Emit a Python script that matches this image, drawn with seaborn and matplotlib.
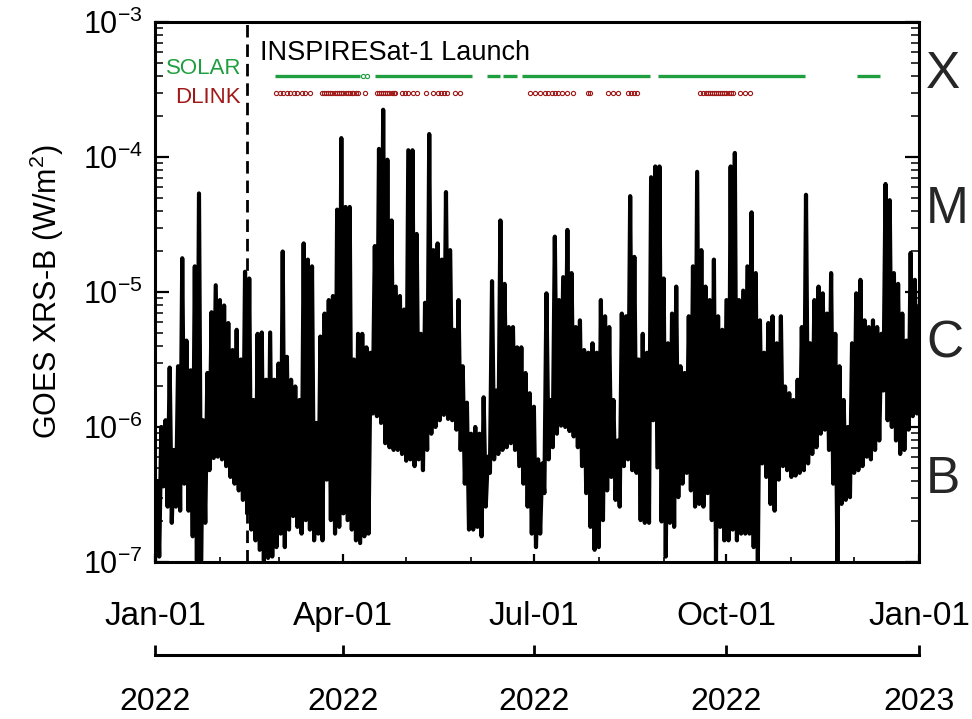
import matplotlib
matplotlib.use("Agg")
import matplotlib.pyplot as plt
import matplotlib.dates as mdates
import matplotlib.transforms as mtransforms
from matplotlib.ticker import LogLocator, NullFormatter, NullLocator
import pandas as pd
import seaborn as sns

# 2-day bins over 2022 (day of year), log10 of the low / high GOES XRS-B flux
bin_day = list(range(0, 366, 2))
flux_hi_log = [
    -6.40, -6.00, -5.95, -5.56, -6.17, -5.55, -4.75, -5.36, -5.58, -4.81,
    -4.27, -5.95, -5.60, -5.15, -4.95, -5.06, -5.10, -5.23, -5.43, -5.28,
    -5.50, -4.85, -4.90, -5.80, -5.31, -5.30, -5.65, -5.30, -5.65, -5.53,
    -4.70, -5.48, -5.65, -5.70, -5.80, -4.64, -4.76, -4.81, -5.97, -5.33,
    -5.16, -5.06, -5.03, -4.39, -3.86, -4.37, -4.37, -5.50, -5.31, -5.31,
    -5.41, -5.45, -4.66, -3.94, -3.65, -4.02, -4.47, -4.96, -5.03, -5.13,
    -3.95, -3.95, -4.57, -5.31, -5.08, -3.83, -4.69, -4.64, -4.76, -4.26,
    -4.69, -5.28, -5.06, -5.55, -5.82, -6.05, -6.00, -6.05, -5.78, -6.22,
    -4.92, -5.73, -4.47, -4.94, -5.26, -5.26, -5.41, -5.41, -5.60, -5.75,
    -5.85, -6.24, -6.27, -5.01, -5.80, -4.59, -5.06, -4.89, -4.54, -4.86,
    -5.26, -5.21, -5.43, -5.45, -5.38, -5.45, -5.06, -5.18, -5.26, -5.80,
    -6.10, -5.16, -5.18, -4.29, -4.74, -5.50, -5.31, -5.45, -4.15, -4.07,
    -4.07, -4.90, -5.38, -5.16, -4.96, -5.55, -5.60, -5.18, -4.81, -4.11,
    -4.69, -4.96, -5.06, -4.76, -5.18, -5.28, -5.06, -4.07, -3.97, -5.06,
    -4.99, -4.81, -4.41, -4.86, -5.21, -5.45, -5.23, -5.18, -5.38, -5.18,
    -5.70, -5.75, -5.80, -5.65, -5.26, -4.28, -5.38, -5.06, -4.96, -5.01,
    -5.16, -4.86, -5.31, -5.55, -5.80, -6.00, -5.38, -5.01, -4.91, -5.21,
    -5.26, -5.21, -5.26, -5.31, -4.20, -4.32, -4.86, -4.94, -5.16, -5.36,
    -4.71, -4.91, -5.11,
]
flux_lo_log = [
    -6.99, -6.96, -6.44, -6.59, -6.71, -6.59, -6.62, -6.42, -6.62, -6.81,
    -6.99, -6.99, -6.71, -6.32, -6.23, -6.22, -6.24, -6.29, -6.37, -6.42,
    -6.47, -6.54, -6.64, -6.76, -6.84, -6.91, -6.99, -6.97, -6.96, -6.89,
    -6.79, -6.89, -6.76, -6.66, -6.74, -6.79, -6.69, -6.76, -6.84, -6.79,
    -6.84, -6.39, -6.69, -6.79, -6.74, -6.64, -6.69, -6.76, -6.84, -6.86,
    -6.81, -6.79, -5.90, -5.92, -5.97, -6.12, -6.15, -6.17, -6.17, -6.20,
    -6.25, -6.24, -6.29, -6.24, -6.32, -6.17, -6.05, -6.00, -5.95, -5.91,
    -5.94, -5.95, -6.02, -6.17, -6.42, -6.76, -6.76, -6.74, -6.81, -6.59,
    -6.34, -6.24, -6.20, -6.17, -6.15, -6.12, -6.17, -6.29, -6.42, -6.59,
    -6.79, -6.89, -6.79, -6.49, -6.24, -6.15, -6.05, -5.99, -6.00, -6.03,
    -6.07, -6.15, -6.29, -6.49, -6.74, -6.91, -6.89, -6.69, -6.47, -6.37,
    -6.54, -6.59, -6.29, -6.24, -6.32, -6.34, -6.69, -6.71, -6.71, -5.95,
    -6.30, -6.70, -6.96, -6.71, -6.74, -6.52, -6.42, -6.34, -6.47, -6.59,
    -6.57, -6.59, -6.49, -6.69, -6.99, -6.74, -6.84, -6.84, -6.76, -6.84,
    -6.79, -6.79, -6.79, -6.89, -6.99, -6.27, -6.37, -6.57, -6.62, -6.39,
    -6.29, -6.32, -6.37, -6.36, -6.34, -6.32, -6.27, -6.20, -6.15, -6.05,
    -6.02, -6.17, -6.42, -7.00, -6.57, -6.54, -6.52, -6.34, -6.32, -6.29,
    -6.22, -6.24, -6.17, -6.10, -5.73, -5.95, -6.00, -6.10, -6.20, -6.17,
    -6.02, -5.92, -5.90,
]

launch_day = 44  # Feb 14

# SOLAR mode periods (day of year)
solar_start = [57.3, 105.0, 158.6, 166.3, 175.3, 240.3, 335.4]
solar_end = [98.0, 151.5, 164.8, 173.0, 236.5, 310.6, 346.4]
solar_dots = [99.5, 101.5]
solar_level = 4.0e-4

# DLINK passes (day of year)
dlink_day = [
    57.8, 59.5, 61.2, 63.0, 64.7, 66.4, 68.0, 70.0, 71.7, 74.1,
    79.6, 80.5, 81.5, 82.5, 83.5, 84.4,
    86.0, 87.0, 88.0, 89.0, 90.0, 91.0, 92.0, 93.0, 94.0, 94.7, 96.0, 97.1,
    100.3,
    106.0, 107.0, 108.0, 109.0, 110.0, 111.0, 112.0, 113.0, 114.0, 114.7,
    117.9, 119.5, 121.0, 123.4, 125.0, 129.5,
    133.0, 135.0, 136.5, 138.0, 139.4, 143.3, 145.7,
    179.2, 181.6, 183.9, 186.3, 187.9, 189.5, 191.1, 192.7, 194.3, 196.7, 199.9,
    207.0, 207.8, 216.6, 219.0, 221.4,
    226.1, 227.5, 229.0, 230.1,
    260.4, 262.0, 263.0, 264.0, 265.0, 266.0, 267.0, 268.0, 269.0, 270.0,
    271.0, 272.0, 273.0, 274.0, 275.0, 276.3,
    279.5, 281.9, 284.3,
]
dlink_level = 3.0e-4

goes_class = ["X", "M", "C", "B"]
class_pos = [4.1e-4, 4.1e-5, 4.1e-6, 4.1e-7]

GREEN = "#1f9e3f"
DRED = "#a01818"

sns.set_theme(style="ticks")
plt.rcParams["font.family"] = ["Liberation Sans", "DejaVu Sans"]
plt.rcParams["mathtext.fontset"] = "custom"
plt.rcParams["mathtext.rm"] = "Liberation Sans"
plt.rcParams["mathtext.it"] = "Liberation Sans:italic"
plt.rcParams["mathtext.bf"] = "Liberation Sans:bold"
plt.rcParams["axes.unicode_minus"] = False

start = pd.Timestamp("2022-01-01")
end = pd.Timestamp("2023-01-01")


def to_date(days):
    return start + pd.to_timedelta(days, unit="D")


# each bin: low value then high value half a bin later -> dense trace
t, f = [], []
for d, lo, hi in zip(bin_day, flux_lo_log, flux_hi_log):
    t += [d, d + 1]
    f += [10 ** lo, 10 ** hi]
goes = pd.DataFrame({"time": to_date(t), "flux": f})

fig = plt.figure(figsize=(9.72, 7.19), dpi=100)
ax = fig.add_axes([0.1595, 0.2184, 0.786, 0.751])

sns.lineplot(data=goes, x="time", y="flux", sort=False, estimator=None,
             color="black", lw=3.0, ax=ax)

ax.set_yscale("log")
ax.set_ylim(1e-7, 1e-3)
ax.set_xlim(start, end)

ax.axvline(to_date(launch_day), color="black", lw=2.0, ls=(0, (4.5, 2.5)))

ax.hlines([solar_level] * len(solar_start), to_date(solar_start), to_date(solar_end),
          colors=GREEN, lw=2.4)
ax.plot(to_date(solar_dots), [solar_level] * len(solar_dots), ls="none", marker="o",
        ms=3, mfc="none", mec=GREEN, mew=0.8)
ax.plot(to_date(dlink_day), [dlink_level] * len(dlink_day), ls="none", marker="o",
        ms=3, mfc="none", mec=DRED, mew=0.8)

ax.text(0.1374, 0.9426, "INSPIRESat-1 Launch", transform=ax.transAxes,
        fontsize=19.5, ha="left", va="center", color="black")
ax.text(0.1126, 0.9148, "SOLAR", transform=ax.transAxes, fontsize=16,
        ha="right", va="center", color=GREEN)
ax.text(0.1126, 0.8611, "DLINK", transform=ax.transAxes, fontsize=16,
        ha="right", va="center", color=DRED)

trans = mtransforms.blended_transform_factory(ax.transAxes, ax.transData)
for label, pos in zip(goes_class, class_pos):
    ax.text(1.009, pos, label, transform=trans, fontsize=37, ha="left", va="center")

# axes styling
ax.xaxis.set_major_locator(mdates.MonthLocator(bymonth=[1, 4, 7, 10]))
ax.xaxis.set_minor_locator(mdates.MonthLocator())
ax.xaxis.set_major_formatter(mdates.DateFormatter("%b-%d"))
ax.yaxis.set_major_locator(LogLocator(base=10, numticks=10))
ax.yaxis.set_minor_locator(LogLocator(base=10, subs=range(2, 10), numticks=10))
ax.yaxis.set_minor_formatter(NullFormatter())

ax.tick_params(axis="y", which="major", direction="in", length=10, width=1.6,
               left=True, right=True, labelsize=22, pad=9, colors="black")
ax.tick_params(axis="y", which="minor", direction="in", length=5.5, width=1.3,
               left=True, right=True)
ax.tick_params(axis="x", which="major", direction="in", length=6, width=1.6,
               top=True, bottom=True, labelsize=24, pad=28, colors="black")
ax.tick_params(axis="x", which="minor", direction="in", length=3.5, width=1.4,
               top=True, bottom=True)
for s in ax.spines.values():
    s.set_color("black")
    s.set_linewidth(2.2)

ax.set_xlabel("")
ax.set_ylabel("GOES XRS-B (W/m$^2$)", fontsize=22, labelpad=12, color="black")

# year axis below the dates
ax2 = ax.twiny()
ax2.set_xlim(start, end)
ax2.xaxis.set_ticks_position("bottom")
ax2.spines["bottom"].set_position(("outward", 67))
for name in ["top", "left", "right"]:
    ax2.spines[name].set_visible(False)
ax2.spines["bottom"].set_linewidth(2.2)
ax2.spines["bottom"].set_color("black")
ax2.xaxis.set_major_locator(mdates.MonthLocator(bymonth=[1, 4, 7, 10]))
ax2.xaxis.set_minor_locator(NullLocator())
ax2.xaxis.set_major_formatter(mdates.DateFormatter("%Y"))
ax2.tick_params(axis="x", which="major", direction="in", length=7, width=2.0,
                labelsize=23, pad=23, colors="black")

fig.savefig("out.png", dpi=100)
